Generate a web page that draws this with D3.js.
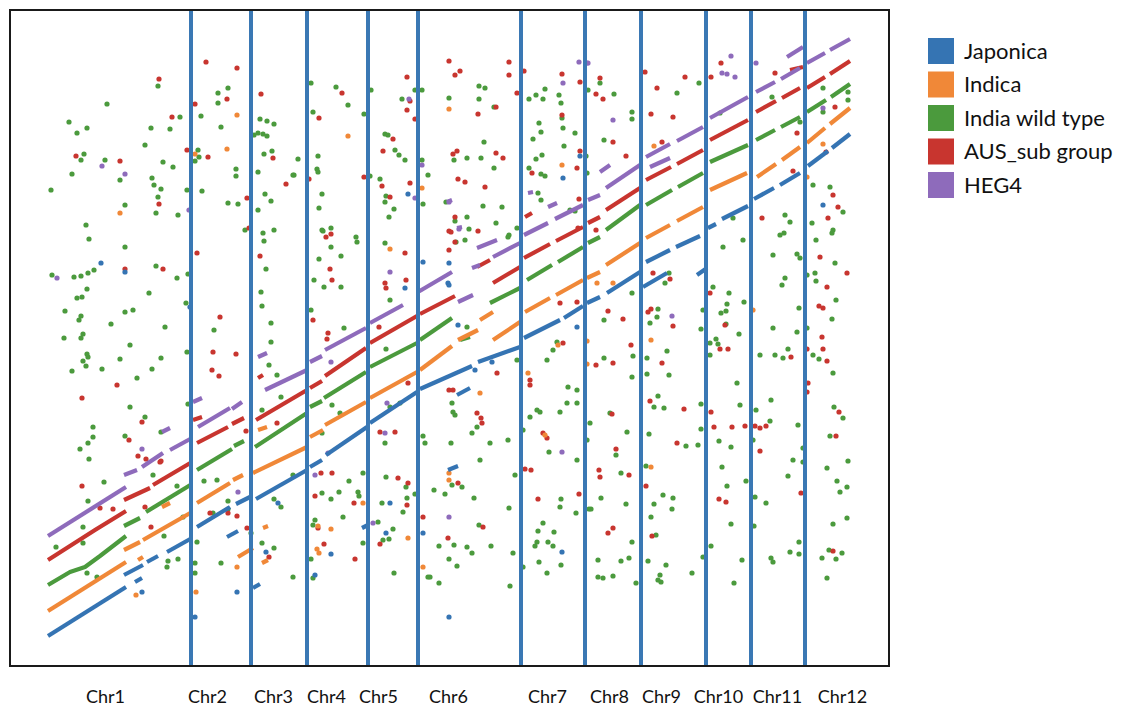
<!DOCTYPE html>
<html>
<head>
<meta charset="utf-8">
<script src="https://cdn.jsdelivr.net/npm/d3@7"></script>
<style>
html,body{margin:0;padding:0;background:#fff;}
svg{display:block;}
text{font-family:Lato,"Open Sans",sans-serif;fill:#111;}
</style>
</head>
<body>
<svg id="chart" width="1137" height="710"></svg>
<script>
// ---------------- data ----------------
const seriesNames = ["Japonica", "Indica", "India wild type", "AUS_sub group", "HEG4"];
const seriesColors = ["#3574b3", "#f08838", "#4b9a3d", "#c8352f", "#8e6bbb"];

const chrLabels = ["Chr1","Chr2","Chr3","Chr4","Chr5","Chr6","Chr7","Chr8","Chr9","Chr10","Chr11","Chr12"];
const chrLabelPos = [95,197,263,316,368,438,537,599,651,708,767,832];
const chrBoundaries = [181,241,297,358,408,511,575,631,696,741,795];

// collinear runs (dashes) per series: [[pos,value],...]
const japonicaRuns = [
 [[38,30],[116,79]],[[114,91],[133,101]],[[137,104],[148,110]],[[157,114],[182,128]],
 [[187,139],[220,159]],[[226,162],[240,169]],[[246,167],[297,196]],[[300,199],[312,206]],
 [[316,211],[357,239]],[[360,243],[407,274]],[[410,277],[462,300]],[[468,304],[510,319]],
 [[514,328],[550,346]],[[554,348],[573,360]],[[577,363],[590,369]],[[597,373],[630,394]],
 [[636,404],[660,416]],[[666,419],[690,430]],[[698,438],[706,442]],[[712,447],[738,460]],
 [[744,467],[764,478]],[[770,481],[790,493]],[[798,500],[818,515]],[[822,518],[840,532]],
 [[125,84],[132,88]],[[217,129],[228,135]],[[243,78],[250,82]],[[352,138],[358,141]],
 [[447,271],[460,278]],[[438,196],[448,200]],[[633,379],[657,393]],[[687,391],[697,398]]
];
const indicaRuns = [
 [[38,55],[116,104]],[[114,116],[130,124]],[[133,126],[182,154]],[[187,163],[220,183]],
 [[223,186],[233,191]],[[243,193],[297,219]],[[300,229],[313,236]],[[315,241],[356,264]],
 [[360,268],[407,294]],[[410,296],[442,320]],[[483,326],[510,344]],
 [[515,354],[540,368]],[[546,371],[573,386]],
 [[577,388],[590,394]],[[596,401],[630,423]],[[636,428],[660,441]],[[667,445],[693,459]],
 [[700,476],[737,493]],[[747,489],[766,502]],[[772,506],[790,519]],
 [[797,523],[815,538]],[[820,542],[840,558]],
 [[152,159],[160,163]],[[128,106],[133,109]],[[228,109],[243,118]],[[252,103],[258,106]],
 [[253,138],[258,140]],[[248,236],[257,239]],[[448,326],[468,336]],[[470,346],[483,354]]
];
const wildRuns = [
 [[38,81],[60,94],[75,99],[90,110],[116,130]],[[114,140],[130,148]],[[136,154],[182,182]],
 [[187,196],[222,217]],[[224,220],[234,225]],[[245,219],[297,253]],[[300,259],[312,265]],
 [[314,268],[356,294]],[[360,299],[407,323]],[[410,326],[442,348]],[[480,363],[510,378]],
 [[517,386],[542,401]],[[548,404],[573,419]],
 [[578,423],[590,429]],[[596,436],[630,461]],[[636,461],[662,476]],[[668,479],[693,493]],
 [[700,504],[738,521]],[[746,526],[765,536]],[[771,539],[790,549]],
 [[797,554],[816,566]],[[821,569],[840,582]],
 [[450,326],[460,329]]
];
const ausRuns = [
 [[38,106],[85,136],[116,155]],[[114,166],[140,178]],[[143,181],[182,204]],[[187,223],[218,239]],
 [[222,242],[234,248]],[[246,246],[297,276]],[[300,278],[312,285]],[[315,290],[356,318]],
 [[360,323],[407,350]],[[410,352],[445,370]],[[483,383],[510,399]],
 [[514,408],[540,422]],[[546,425],[573,439]],
 [[578,443],[590,449]],[[596,456],[630,478]],[[636,486],[661,499]],[[667,502],[693,516]],
 [[700,526],[738,546]],[[746,554],[766,565]],[[772,568],[790,578]],
 [[797,578],[815,589]],[[820,592],[840,605]],
 [[183,246],[192,249]],[[467,399],[480,406]],[[515,449],[522,453]],[[248,288],[253,291]],
 [[780,596],[793,599]]
];
const heg4Runs = [
 [[38,130],[116,179]],[[114,191],[127,196]],[[132,199],[153,213]],[[160,216],[182,228]],
 [[188,239],[220,258]],[[222,257],[232,264]],[[255,276],[297,296]],[[300,304],[312,310]],
 [[315,316],[356,338]],[[360,343],[393,361]],[[408,374],[442,394]],[[483,409],[510,423]],
 [[514,431],[538,443]],[[545,447],[573,461]],
 [[578,466],[590,471]],[[596,478],[630,501]],[[636,509],[660,522]],[[667,525],[693,539]],
 [[700,548],[738,569]],[[746,574],[765,584]],[[771,587],[790,598]],
 [[797,603],[815,613]],[[820,616],[840,627]],
 [[152,234],[160,238]],[[183,264],[192,268]],[[248,309],[257,313]],[[467,418],[487,426]],
 [[448,364],[463,371]],[[462,398],[470,401]],[[437,464],[442,466]],[[447,438],[452,439]],
 [[518,473],[523,474]],[[538,459],[547,463]],[[590,494],[600,501]],[[640,499],[660,508]],
 [[777,609],[793,619]]
];

// isolated points per series: [pos,value]
const japonicaPts = [[91,403],[115,394],[180,359],[132,74],[185,49],[227,74],[256,114],[268,163],
 [398,472],[553,488],[570,510],[395,378],[438,383],[448,341],[465,296],[482,304],[567,339],
 [321,112],[305,91],[376,133],[380,163],[413,133],[439,49],[552,114],[813,461],[413,404],
 [439,403],[439,381]];
const indicaPts = [[227,551],[185,512],[217,517],[110,453],[126,71],[186,74],[227,99],[338,530],
 [412,478],[439,557],[552,501],[380,417],[518,293],[535,231],[470,273],[548,321],[307,117],
 [309,113],[321,137],[308,140],[353,163],[398,128],[413,99],[439,193],[439,186],[644,520],
 [813,522],[797,489],[577,325],[577,302],[587,383],[603,383],[641,326],[641,199],[743,356]];
const wildPts = [
 [148,580],[97,562],[208,573],[218,578],[208,563],[170,549],[191,550],[59,544],[67,533],[77,538],
 [141,538],[160,537],[211,539],[250,547],[257,545],[264,542],[244,531],[248,533],[253,532],[257,530],
 [135,521],[188,516],[189,509],[185,505],[74,512],[71,506],[95,506],[153,504],[163,499],[254,512],
 [262,515],[288,507],[62,492],[110,486],[142,488],[144,481],[151,477],[177,476],[192,475],[226,497],
 [226,490],[248,494],[284,491],[41,476],[115,461],[148,469],[146,453],[168,451],[218,463],[228,462],
 [255,472],[261,465],[248,456],[76,441],[79,427],[235,436],[253,433],[264,436],
 [115,419],[42,391],[64,389],[71,390],[78,393],[84,396],[146,400],[167,388],[178,392],[77,377],
 [67,368],[72,369],[139,373],[55,355],[69,346],[71,350],[115,354],[123,356],[101,342],[155,339],
 [176,363],[204,336],[54,328],[71,328],[73,332],[120,321],[77,312],[78,309],[73,305],[76,300],
 [110,307],[151,308],[177,314],[62,295],[92,297],[127,288],[142,297],[120,259],[135,249],[83,239],
 [70,217],[78,223],[83,229],[79,207],[115,230],[151,234],[178,262],[254,425],[256,397],[251,374],
 [252,360],[261,343],[261,324],[259,301],[267,291],[271,269],[252,256],
 [94,184],[78,165],[73,139],[73,123],[46,119],[77,93],[87,89],[143,191],[167,180],[207,186],
 [218,165],[218,157],[194,185],[203,153],[173,149],[154,130],[168,107],[158,105],[157,99],[187,124],
 [185,103],[185,93],[211,103],[252,123],[264,118],[283,89],[271,159],[264,167],[283,191],[241,133],
 [301,583],[303,554],[326,579],[338,561],[354,552],[361,576],[283,491],[308,510],[307,497],[308,494],
 [312,472],[309,458],[312,436],[321,438],[346,429],[375,532],[378,531],[385,516],[389,511],[395,506],
 [370,487],[376,470],[375,464],[384,457],[379,449],[360,490],[392,567],[405,576],[412,576],[412,506],
 [418,491],[413,462],[439,568],[469,580],[475,578],[469,567],[484,559],[474,524],[457,508],[471,508],
 [484,498],[444,506],[436,464],[445,445],[457,449],[459,437],[473,460],[492,459],[486,443],[499,431],
 [507,438],[519,567],[526,571],[535,577],[533,567],[529,543],[523,527],[531,534],[526,507],[532,511],
 [519,498],[535,490],[531,492],[528,473],[531,466],[549,571],[551,563],[552,548],[553,538],[554,520],
 [565,533],[560,456],[565,455],[576,510],[577,493],[578,576],
 [313,435],[321,419],[347,424],[309,407],[331,410],[304,386],[314,379],[331,379],[301,356],[334,338],
 [375,423],[380,366],[376,317],[446,424],[455,426],[498,429],[457,339],[507,306],[547,324],[543,316],
 [537,306],[567,276],[567,263],[558,279],[520,249],[527,256],[530,254],[550,254],[557,263],[513,236],
 [539,214],[567,206],[480,223],[498,226],[462,233],[467,239],[470,206],[442,263],[443,254],[445,251],
 [441,223],[413,230],[415,223],[375,223],[380,259],[390,263],[330,253],[322,261],[312,233],
 [312,173],[321,167],[305,146],[303,141],[301,107],[303,88],[329,174],[333,149],[339,185],[348,174],
 [349,170],[353,193],[353,123],[368,144],[372,163],[373,126],[379,127],[383,137],[376,189],[384,93],
 [393,154],[397,168],[396,179],[405,172],[418,89],[420,89],[424,176],[429,120],[429,83],[435,172],
 [442,181],[439,107],[444,121],[447,100],[452,179],[457,119],[462,113],[464,168],[469,141],[481,120],
 [499,158],[503,113],[500,80],[505,191],[528,135],[533,143],[527,124],[525,120],[538,124],[543,120],
 [544,134],[529,104],[537,93],[551,167],[550,159],[551,101],[566,153],[579,157],[513,99],
 [590,583],[604,572],[622,554],[622,547],[594,526],[667,573],[689,583],[710,553],[762,569],[813,578],
 [838,574],[838,566],[813,554],[790,544],[803,481],[820,479],[833,454],[823,436],[775,451],[780,444],
 [770,431],[723,448],[802,443],
 [580,243],[577,226],[594,346],[594,308],[622,373],[623,310],[622,289],[617,234],[606,211],[600,253],
 [637,308],[637,292],[639,232],[640,343],[647,349],[648,357],[644,259],[648,270],[654,258],[657,315],
 [659,291],[659,393],[655,383],[676,220],[688,221],[691,262],[691,237],[700,323],[706,327],[708,322],
 [700,311],[691,337],[693,356],[703,379],[711,353],[716,355],[717,362],[719,373],[716,342],[713,419],
 [709,225],[721,219],[729,332],[727,283],[730,261],[734,364],[733,426],[746,256],[743,226],[750,311],
 [761,266],[760,245],[763,338],[765,311],[763,411],[772,381],[775,388],[773,308],[778,317],[787,412],
 [790,408],[787,334],[789,358],[788,241],[793,218],[797,391],[797,338],[803,311],[805,393],[806,385],
 [806,426],[809,307],[823,293],[825,403],[826,366],[822,347],[824,259],[833,248],[820,230],[838,205],
 [783,206],[822,433],[774,433],
 [611,193],[591,168],[616,162],[581,157],[622,124],[588,106],[588,89],[593,88],[603,90],[611,105],
 [619,108],[626,83],[636,200],[653,171],[663,168],[662,157],[644,162],[641,149],[646,131],[638,105],
 [656,101],[650,91],[648,86],[651,84],[682,93],[712,199],[717,180],[721,142],[701,120],[693,109],
 [732,106],[724,83],[736,185],[745,169],[744,140],[756,163],[761,108],[763,104],[778,190],[780,114],
 [789,112],[789,124],[793,204],[817,198],[827,185],[830,174],[837,179],[823,142],[837,148],[819,116],
 [812,108],[826,107],[832,113],[817,88]
];
const ausPts = [
 [196,604],[227,598],[149,587],[217,567],[251,572],[185,562],[162,549],[177,516],[198,509],[66,510],
 [110,505],[263,508],[276,482],[149,462],[237,468],[239,438],
 [153,397],[187,413],[250,410],[210,349],[203,314],[226,312],[202,296],[209,290],[107,281],[72,268],
 [132,244],[119,226],[128,210],[136,207],[151,205],[236,235],[267,243],[115,397],
 [72,180],[90,158],[103,157],[135,159],[141,139],[200,153],[218,153],[227,150],[237,138],[259,109],[150,204],
 [332,573],[309,548],[299,487],[354,489],[373,515],[372,480],[380,469],[383,527],[397,589],[397,556],
 [405,547],[400,565],[400,483],[439,605],[445,591],[450,595],[468,552],[486,559],[443,512],[447,515],
 [486,513],[493,508],[448,487],[455,484],[475,479],[499,604],[499,591],[507,573],[514,595],[522,493],
 [552,592],[552,551],[570,584],[567,498],[569,467],[568,438],[445,449],[439,435],[468,435],[316,429],
 [321,432],[570,515],
 [320,397],[322,386],[318,333],[317,327],[303,346],[369,339],[375,383],[376,378],[396,386],[395,413],
 [439,416],[445,424],[441,434],[487,293],[520,286],[520,281],[533,233],[537,228],[550,363],[567,364],
 [553,323],[370,234],[385,234],[398,283],[439,276],[443,276],[467,253],[471,248],[472,243],
 [305,170],[311,193],[322,193],[308,138],[314,122],[344,163],[345,107],[370,122],[388,188],[398,183],
 [397,161],[413,149],[438,128],[448,183],[473,139],[515,197],[521,196],[528,167],[569,172],
 [635,594],[675,589],[711,603],[701,589],[641,552],[647,578],[663,549],[590,588],[586,572],[593,567],
 [603,524],[616,510],[652,524],[765,593],[825,559],[787,533],[816,514],[823,471],[828,459],[818,448],
 [752,448],[783,495],[586,436],
 [586,301],[603,303],[598,355],[613,347],[621,321],[638,354],[641,357],[652,303],[663,340],[660,387],
 [640,265],[674,257],[667,223],[606,217],[602,252],[643,393],[700,373],[715,341],[710,317],[718,317],
 [701,254],[704,239],[722,239],[735,240],[745,240],[750,238],[756,240],[750,215],[781,309],[797,317],
 [798,283],[797,274],[810,409],[817,379],[809,360],[813,358],[812,329],[813,317],[817,305],[837,393],
 [829,254],[826,230],
 [589,196],[590,189],[619,191],[598,133],[603,138],[636,180],[642,130],[709,167],[716,164],[791,173],[823,115]
];
const heg4Pts = [[92,500],[115,492],[179,456],[47,388],[132,217],[228,174],[399,567],[412,501],
 [405,468],[439,464],[449,437],[553,583],[569,604],[578,603],[380,394],[321,304],[377,263],
 [375,233],[552,214],[318,213],[305,191],[363,143],[439,149],[721,610],[712,593],[717,592],
 [725,589],[746,603],[603,546],[813,558],[577,603],[662,350]];

const runsBySeries = [japonicaRuns, indicaRuns, wildRuns, ausRuns, heg4Runs];
const ptsBySeries = [japonicaPts, indicaPts, wildPts, ausPts, heg4Pts];

// ---------------- chart ----------------
const svg = d3.select("#chart");
const plot = {left: 10, top: 10, right: 889, bottom: 666};
const x = d3.scaleLinear().domain([0, 879]).range([plot.left, plot.right]);
const y = d3.scaleLinear().domain([0, 656]).range([plot.bottom, plot.top]);

svg.append("rect").attr("width", 1137).attr("height", 710).attr("fill", "#fff");

const line = d3.line().x(d => x(d[0])).y(d => y(d[1]));

const gData = svg.append("g");
const drawOrder = [2, 3, 1, 0, 4];
drawOrder.forEach(i => {
  gData.append("g").selectAll("circle").data(ptsBySeries[i]).join("circle")
    .attr("cx", d => x(d[0])).attr("cy", d => y(d[1])).attr("r", 2.6)
    .attr("fill", seriesColors[i]);
});
drawOrder.forEach(i => {
  gData.append("g").selectAll("path").data(runsBySeries[i]).join("path")
    .attr("d", line).attr("fill", "none")
    .attr("stroke", seriesColors[i]).attr("stroke-width", 4.2)
    .attr("stroke-linecap", "butt").attr("stroke-linejoin", "round");
});

// chromosome boundaries
svg.append("g").selectAll("line").data(chrBoundaries).join("line")
  .attr("x1", d => x(d)).attr("x2", d => x(d))
  .attr("y1", y(0)).attr("y2", y(656))
  .attr("stroke", "#3a78b4").attr("stroke-width", 4);

// frame
svg.append("rect")
  .attr("x", plot.left).attr("y", plot.top)
  .attr("width", plot.right - plot.left).attr("height", plot.bottom - plot.top)
  .attr("fill", "none").attr("stroke", "#1a1a1a").attr("stroke-width", 2);

// chromosome labels (bottom axis)
const xAxis = d3.axisBottom(x).tickValues(chrLabelPos)
  .tickFormat((d, i) => chrLabels[i]).tickSize(0).tickPadding(24);
const ax = svg.append("g").attr("transform", `translate(0,${plot.bottom})`).call(xAxis);
ax.select(".domain").remove();
ax.selectAll("text").attr("font-family", "Lato, 'Open Sans', sans-serif").attr("font-size", 18).attr("fill", "#111");

// legend
const lg = svg.append("g").attr("transform", "translate(928,38)");
seriesNames.forEach((name, i) => {
  const g = lg.append("g").attr("transform", `translate(0,${i * 33.5})`);
  g.append("rect").attr("width", 26).attr("height", 26).attr("fill", seriesColors[i]);
  g.append("text").attr("x", 36).attr("y", 13).attr("dy", "0.35em")
    .attr("font-size", 22).text(name);
});
</script>
</body>
</html>
